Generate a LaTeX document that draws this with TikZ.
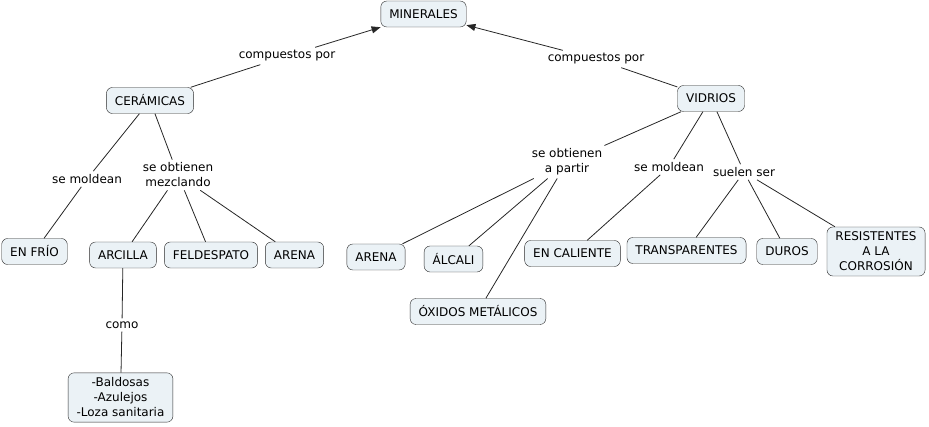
\documentclass[tikz,border=0pt]{standalone}
\usepackage{fontspec}
\setmainfont{DejaVu Sans}
\usepackage{xcolor}
\usetikzlibrary{arrows.meta, positioning}
\definecolor{conceptfill}{HTML}{EBF2F6}
\definecolor{conceptline}{HTML}{2A2A2A}

\begin{document}
\begin{tikzpicture}[
    x=1pt, y=-1pt,
    every node/.style={font=\fontsize{12}{15}\selectfont},
    concept/.style={rectangle, rounded corners=6pt, draw=conceptline, fill=conceptfill,
                    inner xsep=8.5pt, inner ysep=5pt, minimum height=26pt, align=center},
    linkword/.style={rectangle, inner sep=3pt, align=center, fill=white},
    link/.style={draw=black!85, line width=0.8pt},
    arrow/.style={link, -{Triangle[length=9pt, width=7pt]}}
]
\useasboundingbox (0,0) rectangle (929,427);

% Concepts
\node[concept] (minerales)     at (423.5,14)  {MINERALES};
\node[concept] (ceramicas)     at (150,100.5) {CERÁMICAS};
\node[concept] (vidrios)       at (711,98.5)  {VIDRIOS};
\node[concept] (enfrio)        at (34.5,251.5) {EN FRÍO};
\node[concept] (arcilla)       at (123,255)   {ARCILLA};
\node[concept] (feldespato)    at (211,255)   {FELDESPATO};
\node[concept] (arenaA)        at (294.5,255) {ARENA};
\node[concept] (baldosas)      at (120.5,397.5) {-Baldosas\\-Azulejos\\-Loza sanitaria};
\node[concept] (arenaB)        at (376,257)   {ARENA};
\node[concept] (alcali)        at (453.5,259) {ÁLCALI};
\node[concept] (oxidos)        at (478,311.5) {ÓXIDOS METÁLICOS};
\node[concept] (encaliente)    at (572.5,253.5) {EN CALIENTE};
\node[concept] (transparentes) at (686.5,250.5) {TRANSPARENTES};
\node[concept] (duros)         at (787,251.5) {DUROS};
\node[concept] (resistentes)   at (876,251.5) {RESISTENTES\\A LA\\CORROSIÓN};

% Linking words
\node[linkword] (compA)  at (287,56)  {compuestos por};
\node[linkword] (compB)  at (596,59)  {compuestos por};
\node[linkword] (moldA)  at (87,179)  {se moldean};
\node[linkword] (mezcl)  at (178,175) {se obtienen\\mezclando};
\node[linkword] (como)   at (122,325) {como};
\node[linkword] (partir) at (567,162) {se obtienen\\a partir};
\node[linkword] (moldB)  at (669,167) {se moldean};
\node[linkword] (suelen) at (744,172) {suelen ser};

% Top links
\draw[link]  (ceramicas) -- (compA);
\draw[arrow] (compA) -- (minerales);
\draw[link]  (vidrios) -- (compB);
\draw[arrow] (compB) -- (minerales);

% Ceramicas
\draw[link] (ceramicas) -- (moldA);
\draw[link] (moldA) -- (enfrio);
\draw[link] (ceramicas) -- (mezcl);
\draw[link] (mezcl) -- (arcilla);
\draw[link] (mezcl) -- (feldespato);
\draw[link] (mezcl) -- (arenaA);
\draw[link] (arcilla) -- (como);
\draw[link] (como) -- (baldosas);

% Vidrios
\draw[link] (vidrios) -- (partir);
\draw[link] (partir) -- (arenaB);
\draw[link] (partir) -- (alcali);
\draw[link] (partir) -- (oxidos);
\draw[link] (vidrios) -- (moldB);
\draw[link] (moldB) -- (encaliente);
\draw[link] (vidrios) -- (suelen);
\draw[link] (suelen) -- (transparentes);
\draw[link] (suelen) -- (duros);
\draw[link] (suelen) -- (resistentes);

\end{tikzpicture}
\end{document}
